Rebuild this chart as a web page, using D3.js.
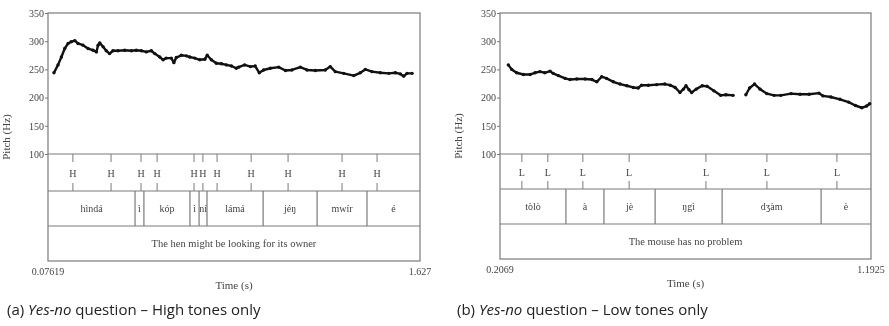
<!DOCTYPE html>
<html>
<head>
<meta charset="utf-8">
<script src="https://cdn.jsdelivr.net/npm/d3@7"></script>
<style>
  body { margin: 0; background: #fff; }
  svg { display: block; filter: grayscale(100%); }
  .axis text, text.axis { font-family: "Liberation Serif", serif; font-size: 10px; fill: #444; }
  .axis line { stroke: #777; }
  .tier text { font-family: "Liberation Serif", serif; font-size: 10px; fill: #444; }
  .caption { font-family: "Open Sans", sans-serif; font-size: 15px; fill: #222; }
</style>
</head>
<body>
<svg id="chart" width="889" height="326"></svg>
<script>
// pitch ticks (Hz)
const pitchTicks = [100, 150, 200, 250, 300, 350];

// (a) yes-no question, high tones only
const timeA = [0.07619, 1.627];
const pitchA = [
  [0.101, 244], [0.118, 258], [0.132, 272], [0.146, 287], [0.160, 296], [0.173, 299],
  [0.188, 301], [0.201, 296], [0.222, 293], [0.243, 287], [0.264, 284], [0.278, 281],
  [0.285, 293], [0.292, 297], [0.306, 290], [0.319, 283], [0.333, 278], [0.347, 283],
  [0.368, 283], [0.396, 284], [0.424, 283], [0.444, 284], [0.465, 283], [0.486, 281],
  [0.507, 283], [0.521, 278], [0.542, 272], [0.556, 267], [0.569, 270], [0.590, 270],
  [0.601, 262], [0.611, 271], [0.632, 275], [0.653, 274], [0.667, 272], [0.688, 270],
  [0.709, 267], [0.730, 268], [0.740, 275], [0.757, 267], [0.778, 261], [0.799, 260],
  [0.820, 258], [0.841, 256], [0.861, 252], [0.871, 254], [0.896, 258], [0.920, 255],
  [0.940, 256], [0.957, 244], [0.975, 249], [1.003, 252], [1.038, 254], [1.066, 248],
  [1.093, 249], [1.128, 254], [1.156, 249], [1.191, 248], [1.232, 249], [1.253, 255],
  [1.274, 246], [1.309, 243], [1.351, 239], [1.378, 244], [1.399, 250], [1.427, 246],
  [1.462, 244], [1.497, 243], [1.524, 244], [1.545, 242], [1.559, 238], [1.573, 243],
  [1.594, 243]
];
const toneTimesA = [0.180, 0.339, 0.464, 0.531, 0.685, 0.722, 0.781, 0.923, 1.077, 1.302, 1.448];
const toneLabelsA = ["H", "H", "H", "H", "H", "H", "H", "H", "H", "H", "H"];
const wordBoundsA = [0.439, 0.476, 0.668, 0.706, 0.739, 0.973, 1.198, 1.406];
const wordsA = ["hìndá", "ì", "kóp", "ì", "ní", "lámá", "jéŋ", "mwír", "é"];
const sentenceA = "The hen might be looking for its owner";
const timeLabelsA = ["0.07619", "1.627"];

// (b) yes-no question, low tones only
const timeB = [0.2069, 1.1925];
const pitchB = [
  [0.229, 258], [0.238, 250], [0.251, 244], [0.269, 241], [0.287, 241], [0.300, 244],
  [0.313, 246], [0.326, 244], [0.340, 247], [0.348, 243], [0.362, 239], [0.380, 234],
  [0.393, 232], [0.411, 233], [0.433, 233], [0.451, 232], [0.464, 228], [0.477, 237],
  [0.490, 234], [0.508, 228], [0.526, 224], [0.544, 221], [0.561, 218], [0.574, 217],
  [0.583, 222], [0.601, 222], [0.623, 223], [0.645, 224], [0.659, 222], [0.672, 218],
  [0.685, 209], [0.694, 215], [0.701, 221], [0.709, 214], [0.716, 209], [0.728, 215],
  [0.744, 221], [0.757, 220], [0.775, 212], [0.793, 204], [0.807, 205], [0.826, 204],
  null,
  [0.860, 205], [0.870, 217], [0.883, 224], [0.898, 215], [0.916, 207], [0.935, 204],
  [0.953, 204], [0.980, 207], [1.004, 206], [1.028, 206], [1.054, 208], [1.065, 203],
  [1.086, 201], [1.110, 197], [1.133, 192], [1.151, 186], [1.168, 182], [1.181, 185],
  [1.189, 189]
];
const toneTimesB = [0.265, 0.334, 0.427, 0.550, 0.754, 0.916, 1.102];
const toneLabelsB = ["L", "L", "L", "L", "L", "L", "L"];
const wordBoundsB = [0.382, 0.483, 0.619, 0.797, 1.060];
const wordsB = ["tòlò", "à", "jè", "ŋgì", "dʒàm", "è"];
const sentenceB = "The mouse has no problem";
const timeLabelsB = ["0.2069", "1.1925"];

const svg = d3.select("#chart");

function drawPanel(p) {
  const g = svg.append("g");
  const x = d3.scaleLinear().domain(p.time).range([p.left, p.right]);
  const y = d3.scaleLinear().domain([100, 350]).range([154, 13]);
  const [yTone, yWord, ySent, yBot] = p.tiers;
  const frame = "#7a7a7a";

  // y axis
  g.append("g").attr("class", "axis")
    .attr("transform", `translate(${p.left},0)`)
    .call(d3.axisLeft(y).tickValues(pitchTicks).tickSize(3).tickPadding(1).tickFormat(d3.format("d")))
    .call(a => a.select(".domain").remove());

  g.append("text").attr("class", "axis")
    .attr("transform", `translate(${p.left - 38},${(13 + yBot) / 2}) rotate(-90)`)
    .attr("text-anchor", "middle").style("font-size", "11px")
    .text("Pitch (Hz)");

  // frame and tier lines
  g.append("rect").attr("x", p.left).attr("y", 13)
    .attr("width", p.right - p.left).attr("height", yBot - 13)
    .attr("fill", "none").attr("stroke", frame).attr("stroke-width", 1.2);
  [yTone, yWord, ySent].forEach(v => {
    g.append("line").attr("x1", p.left).attr("x2", p.right).attr("y1", v).attr("y2", v)
      .attr("stroke", frame).attr("stroke-width", 1.2);
  });

  // pitch track
  const line = d3.line().defined(d => d !== null).x(d => x(d[0])).y(d => y(d[1]));
  g.append("path").datum(p.pitch).attr("d", line)
    .attr("fill", "none").attr("stroke", "#111").attr("stroke-width", 2.4)
    .attr("stroke-linejoin", "round");
  g.selectAll(".pt").data(p.pitch.filter(d => d)).join("circle")
    .attr("cx", d => x(d[0])).attr("cy", d => y(d[1])).attr("r", 1.7).attr("fill", "#111");

  // tone tier
  const tone = g.append("g").attr("class", "tier");
  p.tones.forEach((t, i) => {
    tone.append("line").attr("x1", x(t)).attr("x2", x(t)).attr("y1", yTone).attr("y2", yTone + 8)
      .attr("stroke", frame);
    tone.append("line").attr("x1", x(t)).attr("x2", x(t)).attr("y1", yWord - 8).attr("y2", yWord)
      .attr("stroke", frame);
    tone.append("text").attr("x", x(t)).attr("y", (yTone + yWord) / 2 + 4)
      .attr("text-anchor", "middle").text(p.toneLabels[i]);
  });

  // word tier
  const edges = [p.time[0], ...p.bounds, p.time[1]];
  p.bounds.forEach(b => {
    g.append("line").attr("x1", x(b)).attr("x2", x(b)).attr("y1", yWord).attr("y2", ySent)
      .attr("stroke", frame).attr("stroke-width", 1.2);
  });
  const words = g.append("g").attr("class", "tier");
  p.words.forEach((w, i) => {
    words.append("text").attr("x", (x(edges[i]) + x(edges[i + 1])) / 2)
      .attr("y", (yWord + ySent) / 2 + 3).attr("text-anchor", "middle").text(w);
  });

  // sentence tier
  g.append("g").attr("class", "tier").append("text")
    .attr("x", (p.left + p.right) / 2).attr("y", (ySent + yBot) / 2 + 3)
    .attr("text-anchor", "middle").style("font-size", "10.5px").text(p.sentence);

  // time labels
  const tl = g.append("g").attr("class", "axis");
  tl.append("text").attr("x", p.left).attr("y", yBot + 14).attr("text-anchor", "middle").text(p.timeLabels[0]);
  tl.append("text").attr("x", p.right).attr("y", yBot + 14).attr("text-anchor", "middle").text(p.timeLabels[1]);
  tl.append("text").attr("x", (p.left + p.right) / 2).attr("y", yBot + 28)
    .attr("text-anchor", "middle").style("font-size", "11px").text("Time (s)");

  // caption
  const cap = g.append("text").attr("class", "caption").attr("x", p.capX).attr("y", 315);
  cap.append("tspan").text("(" + p.letter + ") ");
  cap.append("tspan").style("font-style", "italic").text("Yes-no");
  cap.append("tspan").text(" question – " + p.capText);
}

drawPanel({
  left: 48, right: 420, tiers: [154, 191, 226, 261], time: timeA, pitch: pitchA,
  tones: toneTimesA, toneLabels: toneLabelsA, bounds: wordBoundsA, words: wordsA,
  sentence: sentenceA, timeLabels: timeLabelsA, letter: "a", capText: "High tones only", capX: 7
});
drawPanel({
  left: 500, right: 871, tiers: [154, 189, 224, 259], time: timeB, pitch: pitchB,
  tones: toneTimesB, toneLabels: toneLabelsB, bounds: wordBoundsB, words: wordsB,
  sentence: sentenceB, timeLabels: timeLabelsB, letter: "b", capText: "Low tones only", capX: 457
});
</script>
</body>
</html>
